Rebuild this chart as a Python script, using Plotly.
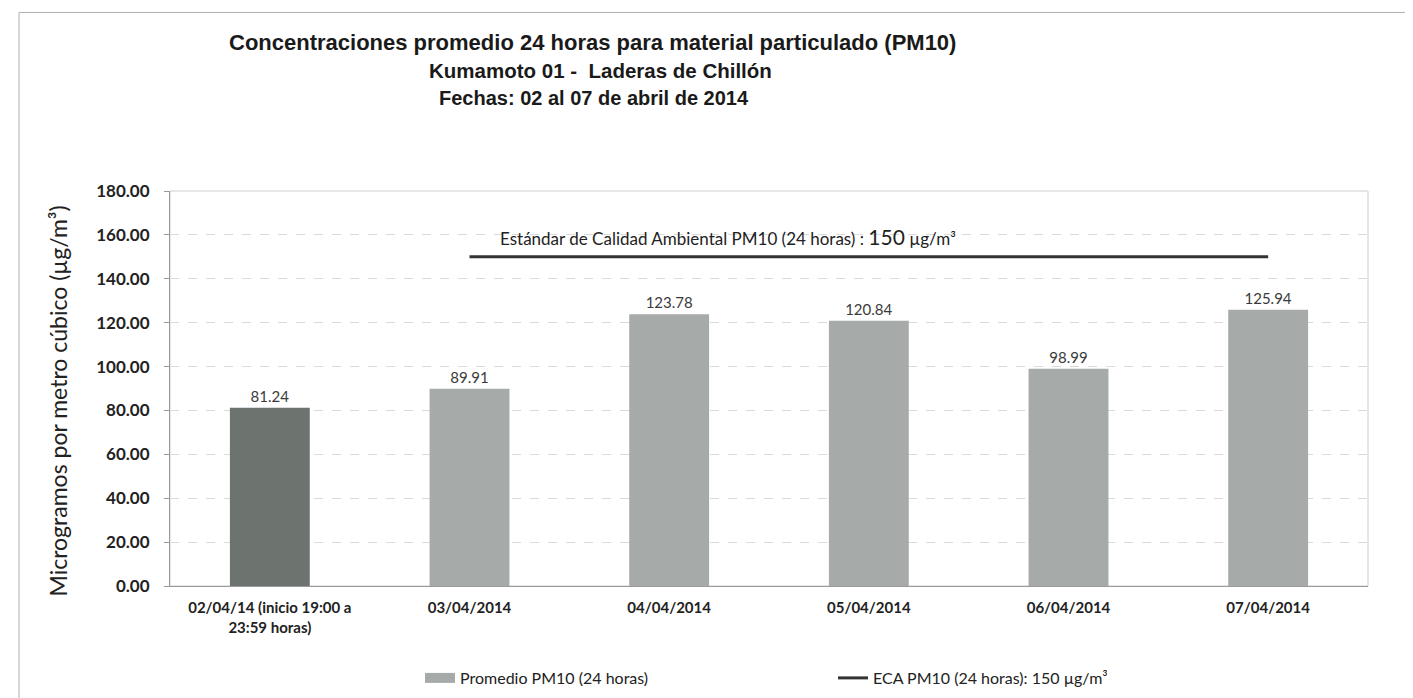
import plotly.graph_objects as go

categories = ["02/04/14 (inicio 19:00 a<br>23:59 horas)", "03/04/2014", "04/04/2014",
              "05/04/2014", "06/04/2014", "07/04/2014"]
pm10_values = [81.24, 89.91, 123.78, 120.84, 98.99, 125.94]
bar_colors = ["#6d736f", "#a6aaa8", "#a6aaa8", "#a6aaa8", "#a6aaa8", "#a6aaa8"]
eca_values = [None, 150, 150, 150, 150, 150]
y_ticks = [0, 20, 40, 60, 80, 100, 120, 140, 160, 180]
title_lines = ["Concentraciones promedio 24 horas para material particulado (PM10)",
               "Kumamoto 01 -  Laderas de Chillón",
               "Fechas: 02 al 07 de abril de 2014"]

W, H = 1413, 698
ML, MR, MT, MB = 162, 53, 183, 119
PW, PH = W - ML - MR, H - MT - MB
FONT = "Lato, Carlito, sans-serif"


def px_x(x):
    return (x - ML) / PW


def px_y(y):
    return 1 - (y - MT) / PH


fig = go.Figure()
fig.add_trace(go.Bar(
    x=categories, y=pm10_values, width=0.4,
    marker=dict(color=bar_colors, line=dict(width=0)),
    name="Promedio PM10 (24 horas)", showlegend=False,
    text=[f"{v:.2f}" for v in pm10_values], textposition="outside",
    textfont=dict(family=FONT, size=15, color="#3a3a3a"),
    cliponaxis=False,
))
# legend entry drawn as a wide swatch like the original
fig.add_trace(go.Scatter(
    x=[None], y=[None], mode="lines",
    line=dict(color=bar_colors[1], width=11),
    name="Promedio PM10 (24 horas)",
))
fig.add_trace(go.Scatter(
    x=categories, y=eca_values, mode="lines",
    line=dict(color="#333333", width=3),
    name="ECA PM10 (24 horas): 150 µg/m³",
))

annotations = []
for t, ypix, xc, fs in zip(title_lines, [34, 62, 90], [584, 592, 586], [22, 20.5, 20]):
    annotations.append(dict(
        text=f"<b>{t}</b>", xref="paper", yref="paper",
        x=px_x(xc), y=px_y(ypix),
        xanchor="center", yanchor="middle", showarrow=False,
        font=dict(family="Liberation Sans, Arial, sans-serif", size=fs, color="#1a1a1a"),
    ))
annotations.append(dict(
    text="Estándar de Calidad Ambiental PM10 (24 horas) : <span style='font-size:21px'>150</span> µg/m³",
    xref="paper", yref="y", x=px_x(490), y=150,
    xanchor="left", yanchor="bottom", yshift=6, showarrow=False,
    font=dict(family=FONT, size=17, color="#222222"),
))
annotations.append(dict(
    text="Microgramos por metro cúbico (µg/m³)",
    xref="paper", yref="paper", x=px_x(50), y=px_y(394),
    xanchor="center", yanchor="middle", textangle=-90, showarrow=False,
    font=dict(family=FONT, size=23, color="#222222"),
))
fig.update_layout(annotations=annotations)

fig.update_layout(
    width=W, height=H,
    margin=dict(l=ML, r=MR, t=MT, b=MB),
    paper_bgcolor="white", plot_bgcolor="white",
    showlegend=True,
    legend=dict(orientation="h", x=px_x(412), y=px_y(670),
                xanchor="left", yanchor="middle",
                entrywidth=368, entrywidthmode="pixels",
                font=dict(family=FONT, size=16, color="#222222")),
)
fig.update_xaxes(
    showline=True, linecolor="#9a9a9a", linewidth=1,
    showgrid=False, ticks="", ticklabelstandoff=8,
    tickvals=categories, ticktext=[f"<b>{c}</b>" for c in categories],
    tickfont=dict(family=FONT, size=15, color="#222222"),
)
fig.update_yaxes(
    range=[0, 180], tickvals=y_ticks, ticktext=[f"<b>{v:.2f}</b>" for v in y_ticks],
    showgrid=True, gridcolor="#dadada", griddash="dash", gridwidth=1,
    showline=True, linecolor="#9a9a9a", linewidth=1,
    ticks="outside", ticklen=5, tickcolor="#9a9a9a", ticklabelstandoff=11,
    tickfont=dict(family=FONT, size=17, color="#222222"),
    zeroline=False,
)

# light frame around plot area
fig.add_shape(type="rect", xref="paper", yref="paper", x0=0, x1=1, y0=0, y1=1,
              line=dict(color="#cfcfcf", width=1), layer="below")
# outer document frame (left and top edges)
fig.add_shape(type="line", xref="paper", yref="paper",
              x0=px_x(11), x1=px_x(11), y0=px_y(4), y1=px_y(H),
              line=dict(color="#b0b0b0", width=1))
fig.add_shape(type="line", xref="paper", yref="paper",
              x0=px_x(11), x1=px_x(W), y0=px_y(4), y1=px_y(4),
              line=dict(color="#b0b0b0", width=1))

fig.write_html("out.html")
